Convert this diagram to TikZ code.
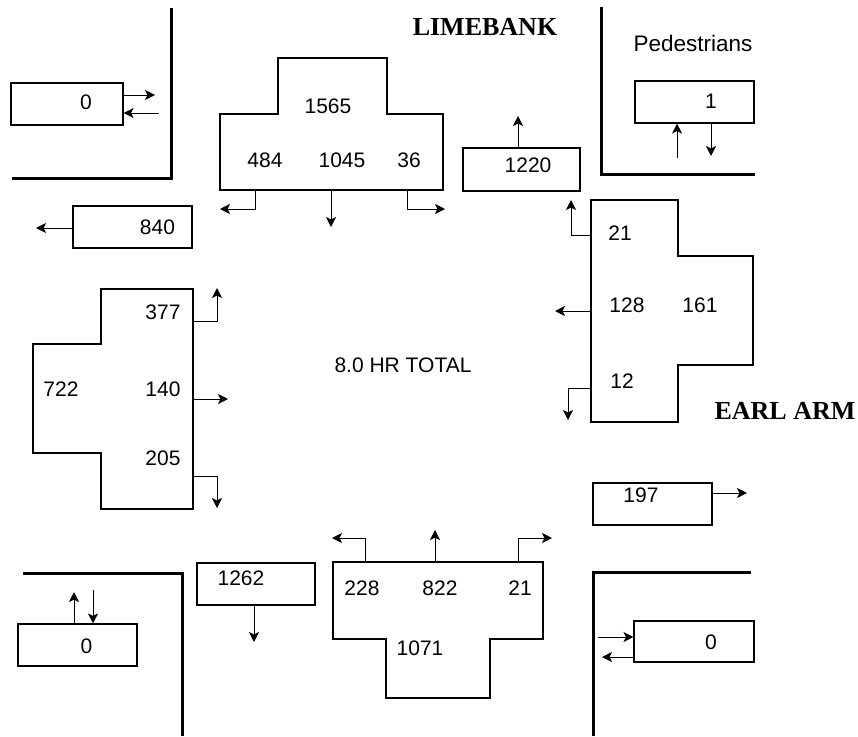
\documentclass[tikz,border=0pt]{standalone}
\usepackage{fontspec}
\setmainfont{Liberation Sans}
\newfontfamily\roadfont{Liberation Serif}
\usetikzlibrary{arrows.meta}
\begin{document}
\begin{tikzpicture}[x=1pt,y=-1pt,
  num/.style={font=\fontsize{21}{25}\selectfont, inner sep=0pt},
  road/.style={font=\roadfont\fontsize{26}{31}\selectfont\bfseries, inner sep=0pt},
  box/.style={draw, line width=1.1pt, inner sep=0pt, minimum height=42pt},
  shp/.style={draw, line width=1.1pt},
  curb/.style={line width=3pt},
  flow/.style={line width=1pt, -{Stealth[length=10pt,width=10pt,inset=2.5pt]}}]
\useasboundingbox (0,0) rectangle (858,736);

% street corners
\draw[curb] (12,178) -- (171,178) -- (171,8);
\draw[curb] (601,7) -- (601,174) -- (755,174);
\draw[curb] (23,573) -- (182,573) -- (182,736);
\draw[curb] (751,572) -- (593,572) -- (593,736);

% titles
\node[road] (limebank) at (485,27) {LIMEBANK};
\node[road] (earlarm) at (785,411) {EARL ARM};
\node[num, font=\fontsize{22.5}{27}\selectfont] (ped) at (693,43) {Pedestrians};
\node[num] (total) at (403,365) {8.0 HR TOTAL};

% boxes
\node[box, minimum width=112pt] (bTL) at (67,104) {};
\node[num] (tTL) at (86,102) {0};
\node[box, minimum width=119pt] (b840) at (132.5,227) {};
\node[num] (t840) at (157.5,227) {840};
\node[box, minimum width=117pt, minimum height=43pt] (b1220) at (521.5,169.5) {};
\node[num] (t1220) at (528,165) {1220};
\node[box, minimum width=119pt] (bPed) at (694.5,102) {};
\node[num] (tPed) at (711,101) {1};
\node[box, minimum width=119pt] (b197) at (652.5,504) {};
\node[num] (t197) at (641,495) {197};
\node[box, minimum width=118pt] (b1262) at (256,584) {};
\node[num] (t1262) at (241,578) {1262};
\node[box, minimum width=119pt] (bBL) at (77.5,645) {};
\node[num] (tBL) at (86.5,646) {0};
\node[box, minimum width=120pt, minimum height=41pt] (bBR) at (694,641.5) {};
\node[num] (tBR) at (711,642) {0};

% T-shapes
\draw[shp] (278,58) -- (387,58) -- (387,114) -- (443,114) -- (443,190)
  -- (220,190) -- (220,114) -- (278,114) -- cycle;
\draw[shp] (591,200) -- (678,200) -- (678,256) -- (753,256) -- (753,365)
  -- (678,365) -- (678,422) -- (591,422) -- cycle;
\draw[shp] (101,289) -- (193,289) -- (193,509) -- (101,509) -- (101,453)
  -- (33,453) -- (33,344) -- (101,344) -- cycle;
\draw[shp] (333,562) -- (543,562) -- (543,639) -- (490,639) -- (490,698)
  -- (386,698) -- (386,639) -- (333,639) -- cycle;

% numbers in T-shapes
\node[num] (n1565) at (328,106) {1565};
\node[num] (n484) at (265,160) {484};
\node[num] (n1045) at (342,160) {1045};
\node[num] (n36) at (409,160) {36};
\node[num] (n21r) at (620,233) {21};
\node[num] (n128) at (627,305) {128};
\node[num] (n161) at (700,305) {161};
\node[num] (n12) at (622,381) {12};
\node[num] (n377) at (163,312) {377};
\node[num] (n722) at (61,389) {722};
\node[num] (n140) at (163,389) {140};
\node[num] (n205) at (163,458) {205};
\node[num] (n228) at (362,588) {228};
\node[num] (n822) at (440,588) {822};
\node[num] (n21b) at (520,588) {21};
\node[num] (n1071) at (420,648) {1071};

% attachment points on T-shapes
\coordinate (tL) at (255,190); \coordinate (tM) at (331,190); \coordinate (tR) at (407,190);
\coordinate (rT) at (591,235); \coordinate (rM) at (591,311); \coordinate (rB) at (591,388);
\coordinate (lT) at (193,321); \coordinate (lM) at (193,399); \coordinate (lB) at (193,476);
\coordinate (bL) at (365,562); \coordinate (bM) at (435,562); \coordinate (bR) at (518,562);

% free ends
\coordinate (eTLa) at (155,95); \coordinate (eTLb) at (159,113);
\coordinate (e840) at (36,228);
\coordinate (etL) at (220,209); \coordinate (etM) at (331,227); \coordinate (etR) at (445,209);
\coordinate (e1220) at (518,116);
\coordinate (ePa) at (677,158); \coordinate (ePb) at (711,156);
\coordinate (erT) at (571,200); \coordinate (erM) at (555,311); \coordinate (erB) at (568,420);
\coordinate (e197) at (747,493);
\coordinate (elT) at (217,288); \coordinate (elM) at (228,399); \coordinate (elB) at (217,508);
\coordinate (eBLa) at (74,592); \coordinate (eBLb) at (93,590);
\coordinate (e1262) at (254,642);
\coordinate (ebL) at (332,538); \coordinate (ebM) at (435,530); \coordinate (ebR) at (552,538);
\coordinate (eBRa) at (598,637); \coordinate (eBRb) at (602,657);

% connectors
\draw[flow] (bTL.east |- eTLa) -- (eTLa);
\draw[flow] (eTLb) -- (bTL.east |- eTLb);
\draw[flow] (b840.west |- e840) -- (e840);
\draw[flow] (tL) |- (etL);
\draw[flow] (tM) -- (etM);
\draw[flow] (tR) |- (etR);
\draw[flow] (b1220.north -| e1220) -- (e1220);
\draw[flow] (ePa) -- (bPed.south -| ePa);
\draw[flow] (bPed.south -| ePb) -- (ePb);
\draw[flow] (rT) -| (erT);
\draw[flow] (rM) -- (erM);
\draw[flow] (rB) -| (erB);
\draw[flow] (b197.east |- e197) -- (e197);
\draw[flow] (lT) -| (elT);
\draw[flow] (lM) -- (elM);
\draw[flow] (lB) -| (elB);
\draw[flow] (bBL.north -| eBLa) -- (eBLa);
\draw[flow] (eBLb) -- (bBL.north -| eBLb);
\draw[flow] (b1262.south -| e1262) -- (e1262);
\draw[flow] (bL) |- (ebL);
\draw[flow] (bM) -- (ebM);
\draw[flow] (bR) |- (ebR);
\draw[flow] (eBRa) -- (bBR.west |- eBRa);
\draw[flow] (bBR.west |- eBRb) -- (eBRb);
\end{tikzpicture}
\end{document}
